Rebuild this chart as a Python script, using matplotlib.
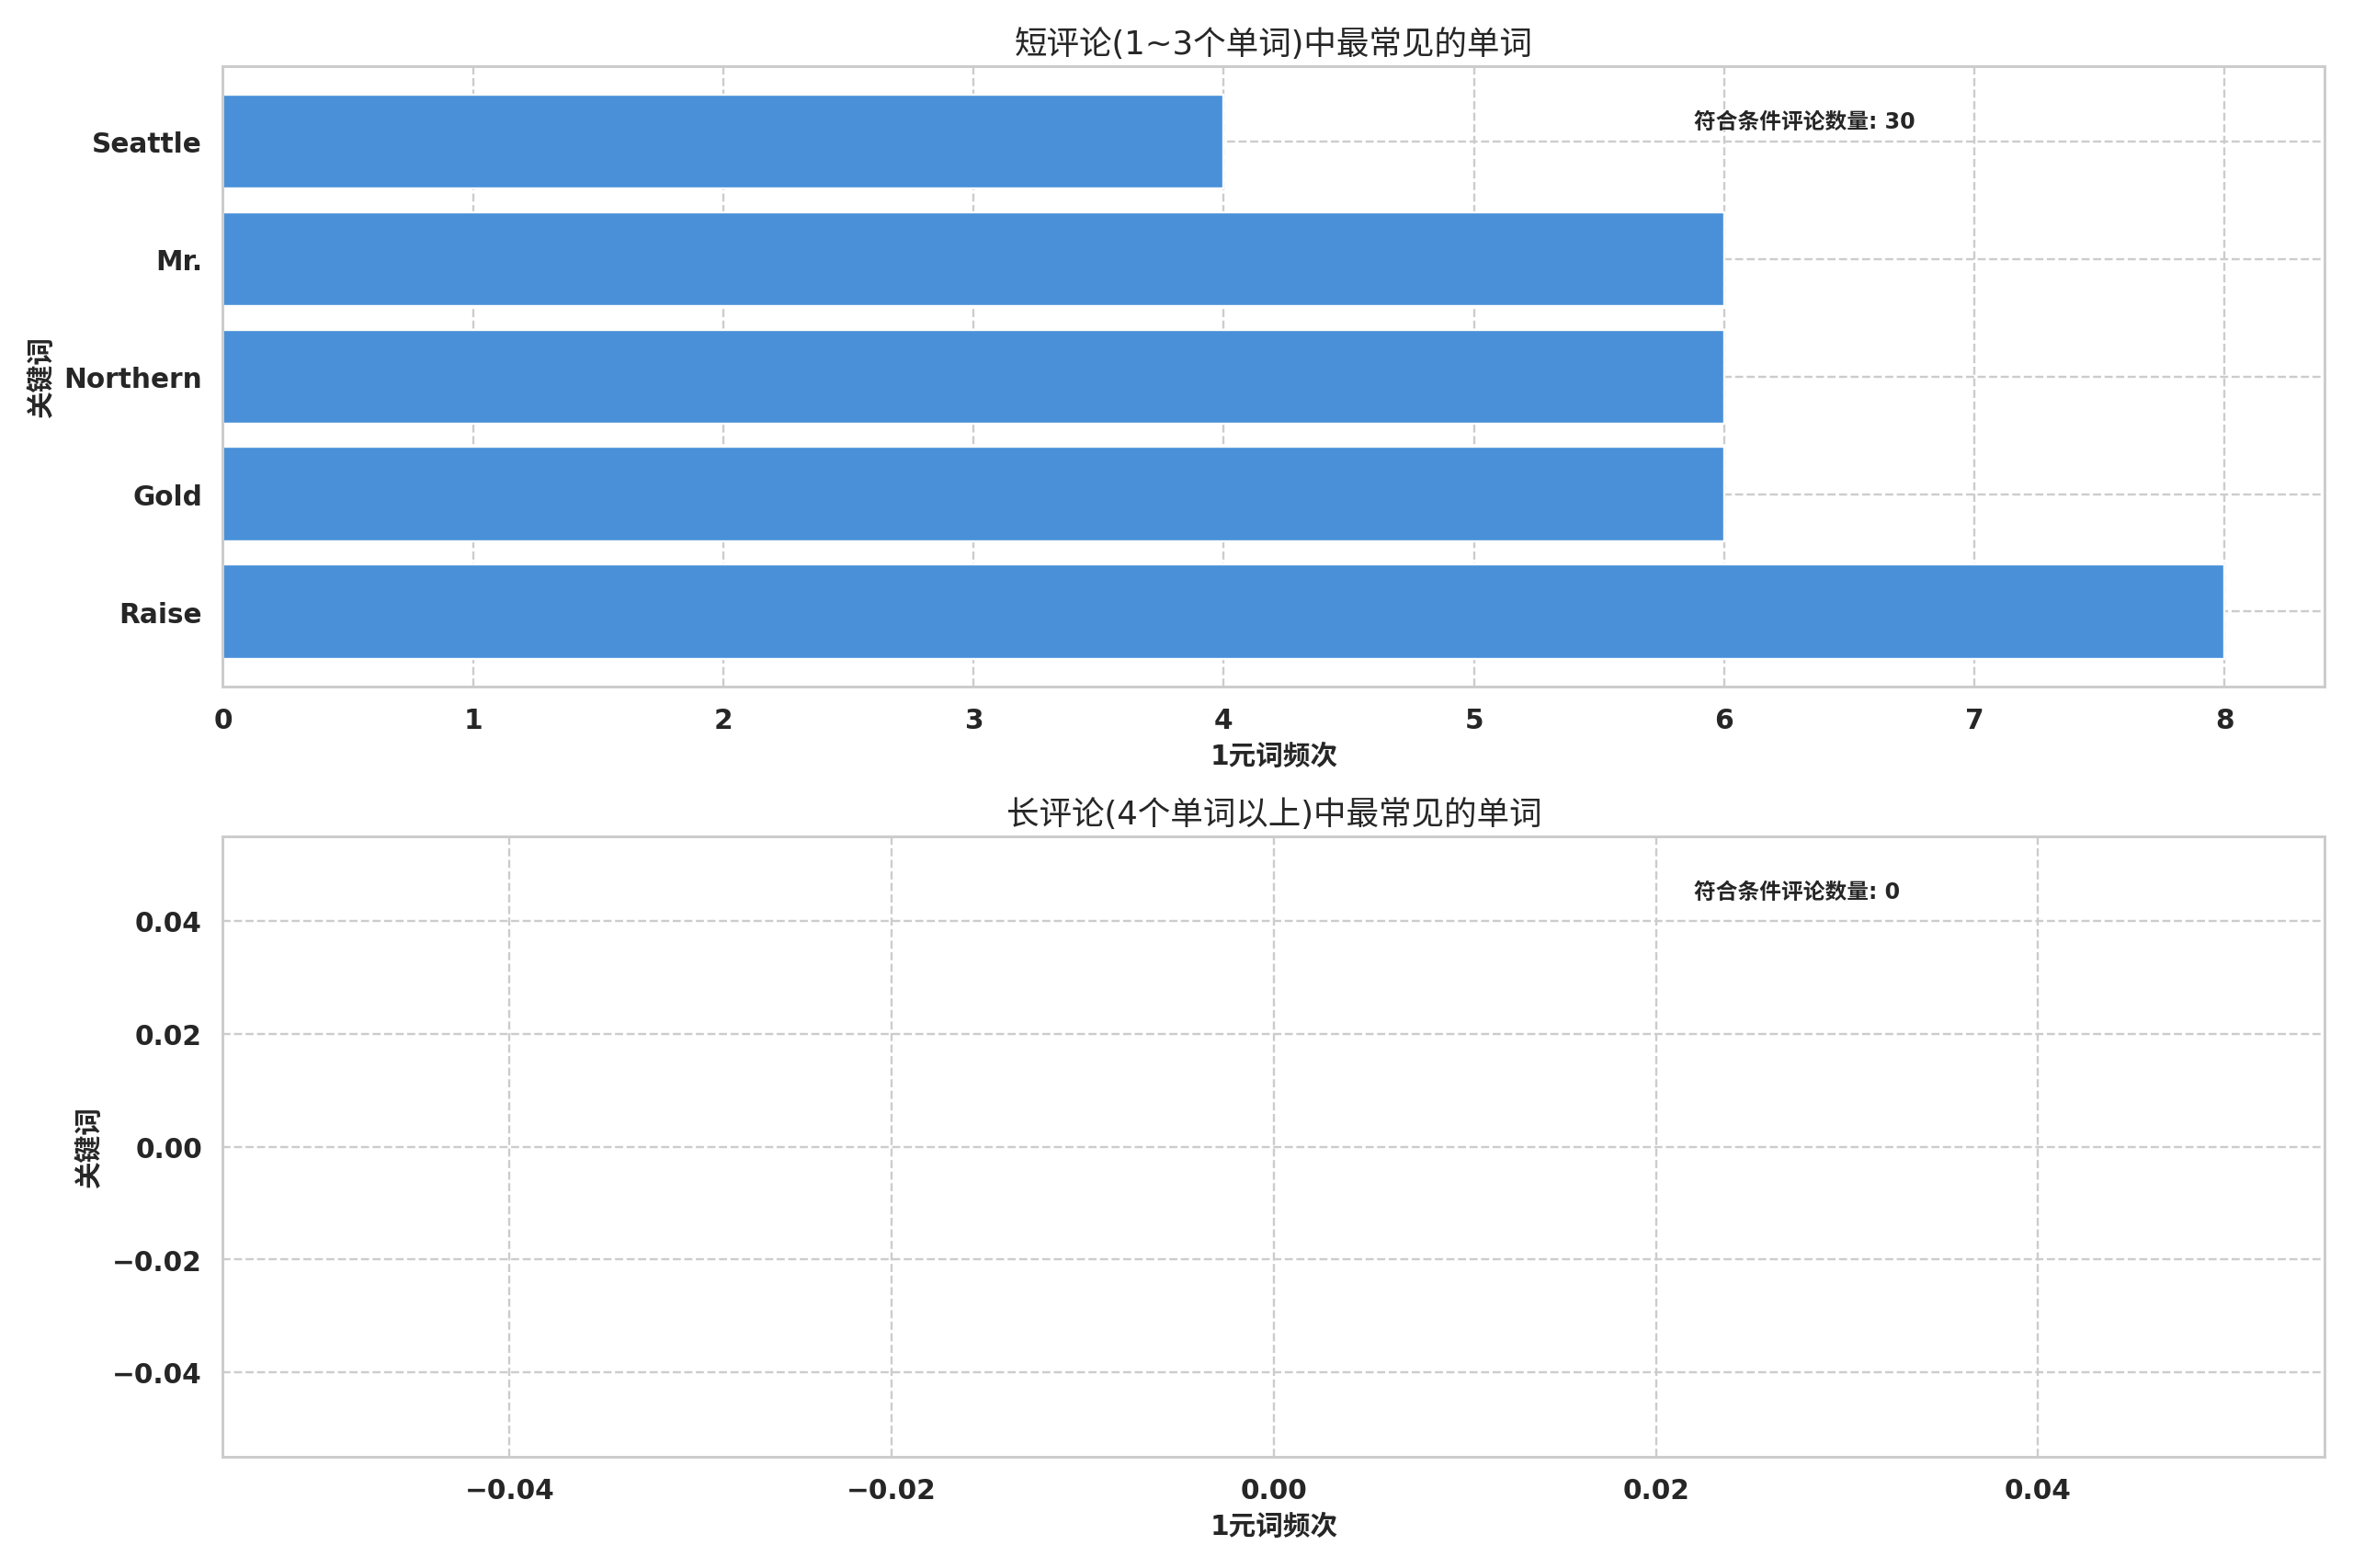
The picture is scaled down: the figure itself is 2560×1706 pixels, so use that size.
import matplotlib
matplotlib.use("Agg")
import matplotlib.pyplot as plt
import seaborn as sns

# word counts for short reviews (1~3 words); long reviews had none
short_words = ["Raise", "Gold", "Northern", "Mr.", "Seattle"]
short_counts = [8, 6, 6, 6, 4]
short_total = 30

long_words = []
long_counts = []
long_total = 0

sns.set_theme(style="whitegrid")
plt.rcParams['font.family'] = ['DejaVu Sans', 'Noto Sans CJK SC']
plt.rcParams['grid.linestyle'] = '--'

fig, axes = plt.subplots(2, 1, figsize=(15, 10), dpi=2560 / 15)

panels = [
    (axes[0], short_words, short_counts, short_total, "短评论(1~3个单词)中最常见的单词"),
    (axes[1], long_words, long_counts, long_total, "长评论(4个单词以上)中最常见的单词"),
]

for ax, words, counts, total, title in panels:
    ax.barh(words, counts, color="#4a90d9")
    ax.set_title(title, fontsize=15)
    ax.set_xlabel("1元词频次", fontsize=12.5, fontweight="bold")
    ax.set_ylabel("关键词", fontsize=12.5, fontweight="bold")
    ax.tick_params(labelsize=12.5)
    for lab in ax.get_xticklabels() + ax.get_yticklabels():
        lab.set_fontweight("bold")
    ax.text(0.7, 0.9, f"符合条件评论数量: {total}", transform=ax.transAxes,
            fontsize=10, fontweight="bold")

plt.tight_layout()
plt.savefig("out.png")
